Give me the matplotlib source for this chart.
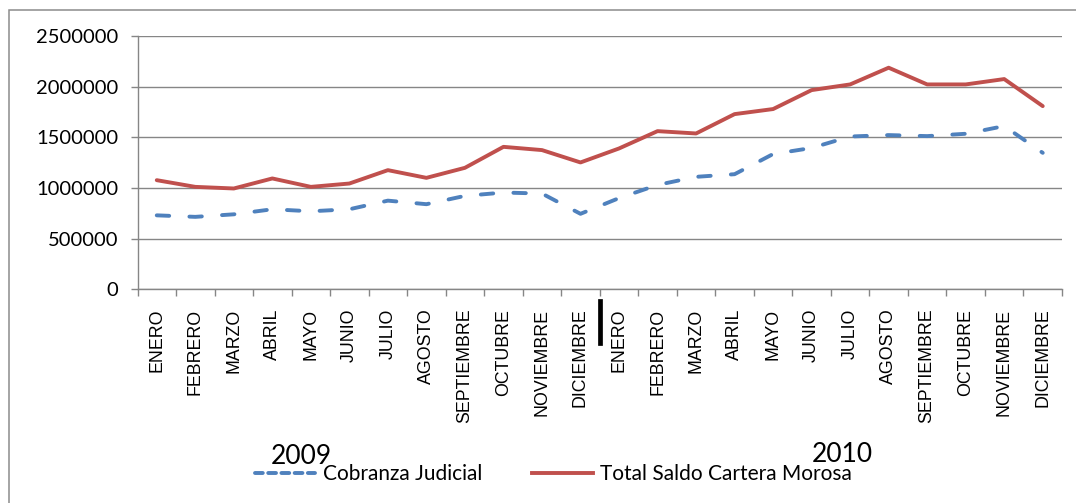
import matplotlib
matplotlib.use('Agg')
import matplotlib.pyplot as plt
from matplotlib.lines import Line2D
from matplotlib.patches import Rectangle
from matplotlib.ticker import FixedLocator, FuncFormatter

months = ["ENERO", "FEBRERO", "MARZO", "ABRIL", "MAYO", "JUNIO", "JULIO",
          "AGOSTO", "SEPTIEMBRE", "OCTUBRE", "NOVIEMBRE", "DICIEMBRE"]
years = ["2009", "2010"]
cobranza_judicial = [730000, 715000, 740000, 790000, 770000, 790000, 875000,
                     840000, 922000, 955000, 945000, 745000,
                     900000, 1030000, 1110000, 1136000, 1335000, 1395000,
                     1508000, 1522000, 1512000, 1535000, 1611000, 1347000]
total_saldo = [1077000, 1011000, 995000, 1094000, 1011000, 1044000, 1176000,
               1100000, 1199000, 1406000, 1374000, 1252000,
               1390000, 1561000, 1538000, 1729000, 1779000, 1966000,
               2022000, 2187000, 2022000, 2022000, 2075000, 1808000]
series_names = ["Cobranza Judicial", "Total Saldo Cartera Morosa"]
y_ticks = [0, 500000, 1000000, 1500000, 2000000, 2500000]

W, H = 1076, 503
fig = plt.figure(figsize=(W / 100, H / 100), dpi=100)
fig.patch.set_facecolor('white')

FONT = ['Lato', 'DejaVu Sans']
ARIAL = ['Liberation Sans', 'DejaVu Sans']
GRID = '#868686'
BLUE = '#4F81BD'
RED = '#C0504D'

# outer chart border (cropped at right and bottom)
fig.patches.append(Rectangle((9 / W, -0.2), 1.2, 1 - 10 / H + 0.2,
                             transform=fig.transFigure, fill=False,
                             edgecolor='#8c8c8c', linewidth=1.1, zorder=0))

left, right, top, bottom = 137.5, 1062, 36, 289.3
ax = fig.add_axes([left / W, 1 - bottom / H, (right - left) / W, (bottom - top) / H])

labels = months + months
n = len(labels)
x = list(range(n))

ax.plot(x, total_saldo, color=RED, linewidth=2.8, solid_capstyle='round',
        solid_joinstyle='round', zorder=3)
ax.plot(x, cobranza_judicial, color=BLUE, linewidth=2.8, dashes=(3.2, 5.2),
        dash_capstyle='round', dash_joinstyle='round', zorder=3)

ax.set_xlim(-0.5, n - 0.5)
ax.set_ylim(0, 2500000)

ax.yaxis.set_major_locator(FixedLocator(y_ticks))
ax.yaxis.set_major_formatter(FuncFormatter(lambda v, p: f"{int(v)}"))
ax.grid(axis='y', color=GRID, linewidth=1.0, zorder=1)
ax.tick_params(axis='y', length=5, width=1.0, color=GRID, pad=9, labelsize=14.5)
for t in ax.get_yticklabels():
    t.set_family(FONT)

ax.xaxis.set_major_locator(FixedLocator([i - 0.5 for i in range(n + 1)]))
ax.xaxis.set_major_formatter(FuncFormatter(lambda v, p: ""))
ax.set_xticks(x, minor=True)
ax.set_xticklabels(labels, minor=True, rotation=90, va='top', ha='center',
                   fontsize=12.8, family=ARIAL)
ax.tick_params(axis='x', which='major', length=5, width=1.0, color=GRID)
ax.tick_params(axis='x', which='minor', length=0, pad=14)

for s in ['top', 'right']:
    ax.spines[s].set_visible(False)
for s in ['left', 'bottom']:
    ax.spines[s].set_color(GRID)
    ax.spines[s].set_linewidth(1.0)

# separator between years
sep_x = (12 - 0.5 - ax.get_xlim()[0]) / (n) * (right - left) + left
fig.add_artist(Line2D([sep_x / W, sep_x / W], [1 - 300.5 / H, 1 - 342.5 / H],
                      transform=fig.transFigure, color='black', linewidth=3.4))

# year labels
fig.text(301 / W, 1 - 464 / H, years[0], ha='center', va='baseline',
         fontsize=19, family=FONT)
fig.text(842 / W, 1 - 462 / H, years[1], ha='center', va='baseline',
         fontsize=19, family=FONT)

handles = [Line2D([], [], color=BLUE, linewidth=2.8, dashes=(2.0, 1.4),
                  dash_capstyle='round'),
           Line2D([], [], color=RED, linewidth=2.8)]
fig.legend(handles, series_names, loc='center left',
           bbox_to_anchor=(255 / W, 1 - 474 / H), ncol=2, frameon=False,
           borderpad=0, borderaxespad=0, handlelength=2.9, handletextpad=0.35,
           columnspacing=2.4, prop={'family': FONT, 'size': 15})

fig.savefig('out.png', dpi=100, facecolor='white')
